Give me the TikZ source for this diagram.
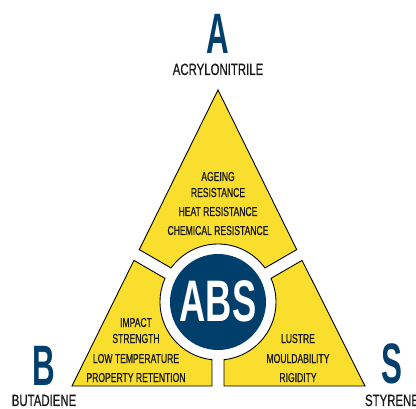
\documentclass[tikz,border=0pt]{standalone}
\usepackage{fontspec}
\newfontfamily\bigf[FakeStretch=0.55]{Liberation Sans}
\newfontfamily\absf[FakeStretch=0.62]{Liberation Sans}
\newfontfamily\labf[FakeStretch=0.70,FakeBold=0.6]{Liberation Sans}
\newfontfamily\innf[FakeStretch=0.66,FakeBold=0.8]{Liberation Sans}
\usetikzlibrary{calc}
\definecolor{absblue}{RGB}{0,63,107}
\definecolor{absyellow}{RGB}{249,222,46}
\definecolor{ink}{RGB}{25,25,25}
\begin{document}
\begin{tikzpicture}[x=1pt,y=1pt,
  region/.style={fill=absyellow,draw=black,line width=0.9pt,line join=miter},
  bigletter/.style={text=absblue,font=\bigf\bfseries\fontsize{57}{57}\selectfont,anchor=base,inner sep=0pt},
  elemlabel/.style={text=ink,font=\labf\fontsize{16.3}{16.3}\selectfont,anchor=base,inner sep=0pt},
  proptext/.style={text=ink,font=\innf\fontsize{13}{13}\selectfont,anchor=base,inner sep=0pt},
  abstext/.style={text=white,font=\absf\bfseries\fontsize{58.6}{58.6}\selectfont,anchor=base,inner sep=0pt}]
\useasboundingbox (0,0) rectangle (416,408);
\coordinate (C) at (218,106);
% regions
\path[region] (218,318) -- (139.28,158.4) -- ($(C)+(144.06:58)$)
  arc[start angle=144.06,end angle=35.94,radius=58] -- (296.72,158.4) -- cycle;
\path[region] (133.95,147.6) -- (72,22) -- (212,22) -- ($(C)+(264.06:58)$)
  arc[start angle=264.06,end angle=155.94,radius=58] -- cycle;
\path[region] (302.05,147.6) -- (365,22) -- (224,22) -- ($(C)+(275.94:58)$)
  arc[start angle=275.94,end angle=384.06,radius=58] -- cycle;
% ABS disc
\node[circle,fill=absblue,minimum size=96pt,inner sep=0pt] (disc) at (C) {};
\node[abstext] (abs) at (218,86) {ABS};
% big letters
\node[bigletter] (A) at (218,354) {A};
\node[elemlabel] (acr) at (218,333) {ACRYLONITRILE};
\node[bigletter] (B) at (44,23) {B};
\node[elemlabel] (but) at (44,2) {BUTADIENE};
\node[bigletter] (S) at (392,25) {S};
\node[elemlabel] (sty) at (392,2) {STYRENE};
% properties
\node[proptext] (p1) at (218,227) {AGEING};
\node[proptext] (p2) at (218,211) {RESISTANCE};
\node[proptext] (p3) at (218,192) {HEAT RESISTANCE};
\node[proptext] (p4) at (218,173) {CHEMICAL RESISTANCE};
\node[proptext] (q1) at (136,81) {IMPACT};
\node[proptext] (q2) at (136,65) {STRENGTH};
\node[proptext] (q3) at (136,45) {LOW TEMPERATURE};
\node[proptext] (q4) at (136,26) {PROPERTY RETENTION};
\node[proptext] (r1) at (298,65) {LUSTRE};
\node[proptext] (r2) at (298,45) {MOULDABILITY};
\node[proptext] (r3) at (298,26) {RIGIDITY};
\end{tikzpicture}
\end{document}
